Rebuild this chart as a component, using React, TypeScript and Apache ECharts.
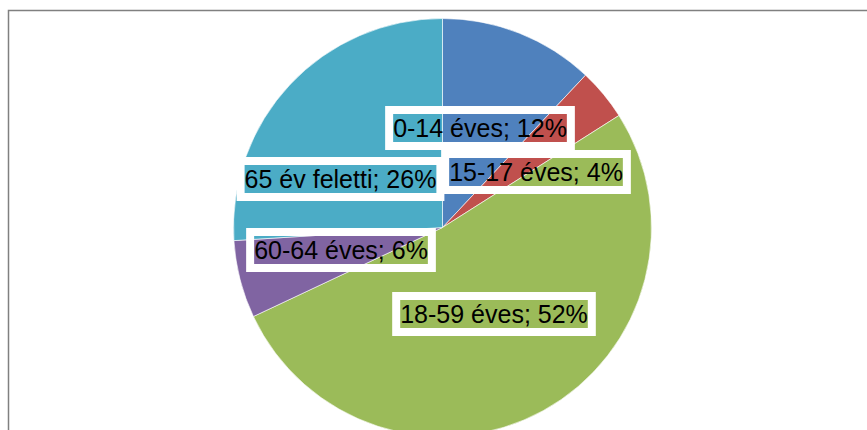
import React, { useEffect, useRef } from "react";
import * as echarts from "echarts";

const categories = ["0-14 éves", "15-17 éves", "18-59 éves", "60-64 éves", "65 év feletti"];
const shares = [12, 4, 52, 6, 26];
const colors = ["#4F81BD", "#C0504D", "#9BBB59", "#8064A2", "#4BACC6"];
// label box centres (layout only)
const labelCenters: [number, number][] = [
  [480, 128],
  [536, 172],
  [494, 314],
  [341, 250],
  [340.5, 179],
];

export default function App() {
  const ref = useRef<HTMLDivElement>(null);
  useEffect(() => {
    if (!ref.current) return;
    const chart = echarts.init(ref.current, null, { renderer: "svg" });
    chart.setOption({
      animation: false,
      backgroundColor: "#ffffff",
      graphic: [
        {
          type: "rect",
          shape: { x: 8.5, y: 10.5, width: 950, height: 500 },
          style: { fill: "none", stroke: "#808080", lineWidth: 1.5 },
          z: 100,
          silent: true,
        },
      ],
      series: [
        {
          type: "pie",
          center: [442.5, 227.5],
          radius: [0, 209],
          startAngle: 90,
          clockwise: true,
          avoidLabelOverlap: false,
          itemStyle: { borderColor: "#ffffff", borderWidth: 0.6 },
          label: {
            show: true,
            position: "inside",
            formatter: (p: any) => `${p.name}; ${p.value}%`,
            fontFamily: "Liberation Sans, Arial, sans-serif",
            fontSize: 25,
            color: "#000000",
            lineHeight: 28,
            padding: [4, 4, 4, 4],
            borderColor: "#ffffff",
            borderWidth: 4,
            borderRadius: 0,
            backgroundColor: "transparent",
          },
          labelLine: { show: false },
          labelLayout: (params: any) => {
            const c = labelCenters[params.dataIndex];
            return { x: c[0], y: c[1], align: "center", verticalAlign: "middle" };
          },
          emphasis: { disabled: true },
          data: categories.map((name, i) => ({
            name,
            value: shares[i],
            itemStyle: { color: colors[i] },
          })),
        },
      ],
    });
    return () => chart.dispose();
  }, []);
  return (
    <div
      ref={ref}
      style={{ position: "fixed", left: 0, top: 0, width: 867, height: 430 }}
    />
  );
}
